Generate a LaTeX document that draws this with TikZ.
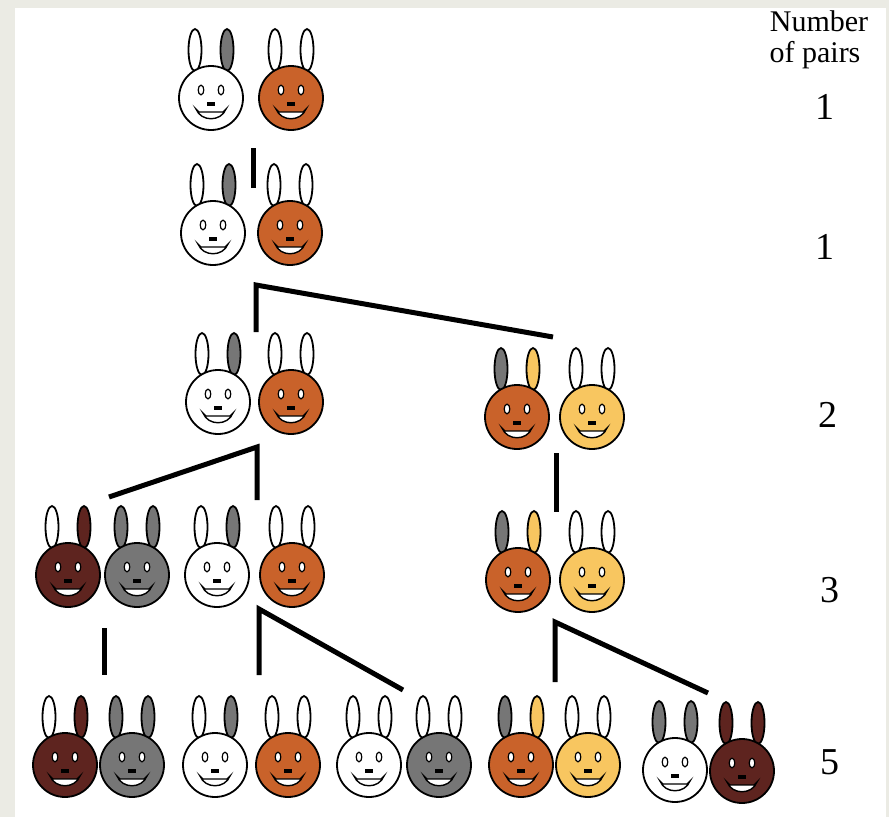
\documentclass[tikz,border=0pt]{standalone}
\usepackage{fontspec}
\setmainfont{Liberation Serif}
\definecolor{furorange}{HTML}{C9622A}
\definecolor{furyellow}{HTML}{F8C660}
\definecolor{furbrown}{HTML}{5E241F}
\definecolor{furgray}{HTML}{767676}
\definecolor{framegray}{HTML}{EBEBE4}
\tikzset{
  outline/.style={draw=black, line width=1.8pt},
  link/.style={draw=black, line width=5pt, line cap=butt, line join=miter},
  heading/.style={font=\fontsize{30}{32}\selectfont, inner sep=0pt},
  count/.style={font=\fontsize{38}{40}\selectfont, inner sep=0pt},
  % one rabbit: head colour, left ear colour, right ear colour
  pics/bunny/.style n args={3}{code={
    \path[outline, fill=#2] (-16,-48) ellipse[x radius=6.5pt, y radius=21pt];
    \path[outline, fill=#3] (16,-48) ellipse[x radius=6.5pt, y radius=21pt];
    \path[outline, fill=#1] (0,0) circle[radius=32pt];
    \path[draw=black, line width=1.2pt, fill=white] (-10,-8) ellipse[x radius=2.8pt, y radius=4.8pt];
    \path[draw=black, line width=1.2pt, fill=white] (10,-8) ellipse[x radius=2.8pt, y radius=4.8pt];
    \fill[black] (-4,4) rectangle (4,8);
    \path[draw=black, line width=1.4pt, fill=white]
      (-15,11) -- (-12,14) -- (12,14) -- (15,11)
      .. controls (10,24) and (-10,24) .. cycle;
  }}
}
\begin{document}
\begin{tikzpicture}[x=1pt, y=-1pt]
  \useasboundingbox (0,0) rectangle (889,817);
  \fill[framegray] (0,0) rectangle (889,817);
  \fill[white] (15,8) rectangle (886,817);

  % generation 1
  \pic (g1a) at (211,98) {bunny={white}{white}{furgray}};
  \pic (g1b) at (291,98) {bunny={furorange}{white}{white}};

  % generation 2
  \pic (g2a) at (213,233) {bunny={white}{white}{furgray}};
  \pic (g2b) at (290,233) {bunny={furorange}{white}{white}};

  % generation 3
  \pic (g3a) at (218,402) {bunny={white}{white}{furgray}};
  \pic (g3b) at (291,402) {bunny={furorange}{white}{white}};
  \pic (g3c) at (517,417) {bunny={furorange}{furgray}{furyellow}};
  \pic (g3d) at (592,417) {bunny={furyellow}{white}{white}};

  % generation 4
  \pic (g4a) at (68,575) {bunny={furbrown}{white}{furbrown}};
  \pic (g4b) at (137,575) {bunny={furgray}{furgray}{furgray}};
  \pic (g4c) at (217,575) {bunny={white}{white}{furgray}};
  \pic (g4d) at (292,575) {bunny={furorange}{white}{white}};
  \pic (g4e) at (518,580) {bunny={furorange}{furgray}{furyellow}};
  \pic (g4f) at (592,580) {bunny={furyellow}{white}{white}};

  % generation 5
  \pic (g5a) at (65,765) {bunny={furbrown}{white}{furbrown}};
  \pic (g5b) at (132,765) {bunny={furgray}{furgray}{furgray}};
  \pic (g5c) at (215,765) {bunny={white}{white}{furgray}};
  \pic (g5d) at (288,765) {bunny={furorange}{white}{white}};
  \pic (g5e) at (369,765) {bunny={white}{white}{white}};
  \pic (g5f) at (439,765) {bunny={furgray}{white}{white}};
  \pic (g5g) at (521,765) {bunny={furorange}{furgray}{furyellow}};
  \pic (g5h) at (588,765) {bunny={furyellow}{white}{white}};
  \pic (g5i) at (675,770) {bunny={white}{furgray}{furgray}};
  \pic (g5j) at (742,771) {bunny={furbrown}{furbrown}{furbrown}};

  % branch points of the family tree
  \coordinate (k1top) at (253,148);
  \coordinate (k1end) at (253,188);
  \coordinate (k2) at (256,285);
  \coordinate (k2down) at (256,332);
  \coordinate (k2side) at (553,337);
  \coordinate (k3) at (257,447);
  \coordinate (k3down) at (257,500);
  \coordinate (k3side) at (109,497);
  \coordinate (k4top) at (556,453);
  \coordinate (k4end) at (556,512);
  \coordinate (k5top) at (104,628);
  \coordinate (k5end) at (104,675);
  \coordinate (k6) at (259,609);
  \coordinate (k6down) at (259,675);
  \coordinate (k6side) at (403,690);
  \coordinate (k7) at (555,622);
  \coordinate (k7down) at (555,682);
  \coordinate (k7side) at (708,693);

  \draw[link] (k1top) -- (k1end);
  \draw[link] (k2down) -- (k2) -- (k2side);
  \draw[link] (k3down) -- (k3) -- (k3side);
  \draw[link] (k4top) -- (k4end);
  \draw[link] (k5top) -- (k5end);
  \draw[link] (k6down) -- (k6) -- (k6side);
  \draw[link] (k7down) -- (k7) -- (k7side);

  % pair counts
  \node[heading, anchor=base] (hd1) at (819,31) {Number};
  \node[heading, anchor=base] (hd2) at (815,62) {of pairs};
  \node[count] (n1) at (825,107) {1};
  \node[count] (n2) at (825,247) {1};
  \node[count] (n3) at (828,415) {2};
  \node[count] (n4) at (830,590) {3};
  \node[count] (n5) at (830,762) {5};
\end{tikzpicture}
\end{document}
